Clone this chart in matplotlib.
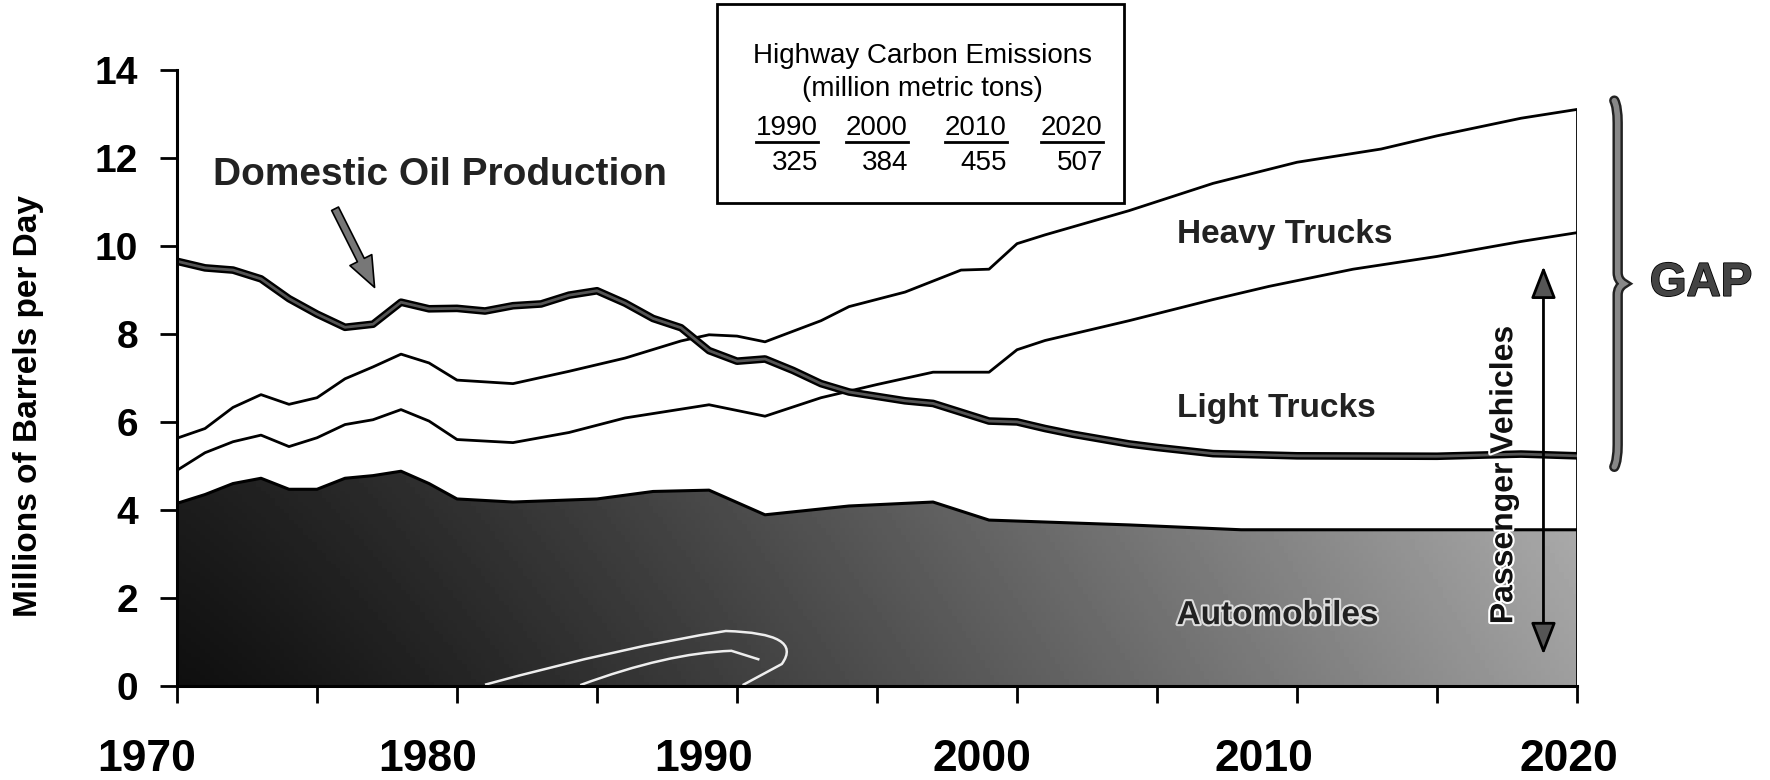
import numpy as np
import matplotlib
matplotlib.use("Agg")
import matplotlib.pyplot as plt
import matplotlib.patheffects as pe
import matplotlib.transforms as mtransforms
from matplotlib.path import Path
from matplotlib.patches import PathPatch, Rectangle, FancyArrowPatch
from matplotlib.lines import Line2D

plt.rcParams["font.family"] = ["Liberation Sans", "DejaVu Sans"]

# -----------------------------
# Data (millions of barrels per day)
# -----------------------------
# top of the automobiles area
auto_years = [1970, 1971, 1972, 1973, 1974, 1975, 1976, 1977, 1978, 1979, 1980,
              1982, 1985, 1987, 1989, 1991, 1994, 1997, 1999, 2004, 2008, 2020]
auto_vals = [4.15, 4.35, 4.6, 4.72, 4.47, 4.47, 4.72, 4.78, 4.88, 4.6, 4.25,
             4.18, 4.25, 4.42, 4.45, 3.89, 4.09, 4.18, 3.77, 3.66, 3.55, 3.55]

# top of the light trucks band (automobiles + light trucks)
light_years = [1970, 1971, 1972, 1973, 1974, 1975, 1976, 1977, 1978, 1979, 1980,
               1982, 1984, 1986, 1989, 1991, 1993, 1995, 1997, 1999, 2000, 2001,
               2004, 2007, 2009, 2012, 2015, 2018, 2020]
light_vals = [4.9, 5.3, 5.55, 5.7, 5.44, 5.64, 5.94, 6.05, 6.28, 6.02, 5.6,
              5.53, 5.76, 6.09, 6.39, 6.13, 6.55, 6.85, 7.13, 7.13, 7.64, 7.85,
              8.3, 8.78, 9.08, 9.47, 9.76, 10.1, 10.3]

# top of the heavy trucks band (total highway demand)
total_years = [1970, 1971, 1972, 1973, 1974, 1975, 1976, 1977, 1978, 1979, 1980,
               1982, 1984, 1986, 1988, 1989, 1990, 1991, 1993, 1994, 1996, 1998,
               1999, 2000, 2001, 2004, 2007, 2010, 2013, 2015, 2018, 2020]
total_vals = [5.63, 5.85, 6.33, 6.62, 6.4, 6.55, 6.98, 7.25, 7.54, 7.34, 6.95,
              6.87, 7.15, 7.45, 7.84, 7.98, 7.95, 7.82, 8.3, 8.62, 8.95, 9.45,
              9.47, 10.05, 10.25, 10.8, 11.42, 11.9, 12.2, 12.5, 12.9, 13.1]

# domestic oil production
oil_years = [1970, 1971, 1972, 1973, 1974, 1975, 1976, 1977, 1978, 1979, 1980,
             1981, 1982, 1983, 1984, 1985, 1986, 1987, 1988, 1989, 1990, 1991,
             1992, 1993, 1994, 1995, 1996, 1997, 1998, 1999, 2000, 2001, 2002,
             2004, 2005, 2007, 2010, 2015, 2018, 2020]
oil_vals = [9.65, 9.5, 9.45, 9.25, 8.8, 8.45, 8.15, 8.22, 8.72, 8.57, 8.58,
            8.52, 8.64, 8.68, 8.88, 8.98, 8.7, 8.35, 8.14, 7.62, 7.38, 7.43,
            7.17, 6.87, 6.68, 6.58, 6.48, 6.42, 6.22, 6.02, 6.0, 5.85, 5.72,
            5.5, 5.42, 5.28, 5.23, 5.22, 5.27, 5.23]

# emissions table
emis_years = ["1990", "2000", "2010", "2020"]
emis_vals = ["325", "384", "455", "507"]

y_ticks = [0, 2, 4, 6, 8, 10, 12, 14]
x_labels = [1970, 1980, 1990, 2000, 2010, 2020]

# -----------------------------
# Figure
# -----------------------------
fig = plt.figure(figsize=(17.7, 7.8), dpi=100)
ax = fig.add_axes([0.1, 0.1205, 0.791, 0.79])
ax.set_xlim(1970, 2020)
ax.set_ylim(0, 14)

# automobiles area, dark on the left fading to mid grey on the right
poly = ax.fill_between(auto_years, 0, auto_vals, facecolor="none", edgecolor="none")
gx = np.linspace(0, 1, 300)
gy = np.linspace(0, 1, 60)
shade = 0.06 + 0.56 * gx[None, :] ** 1.2 + 0.06 * gy[:, None]
img = ax.imshow(shade, extent=[1970, 2020, 0, 5], origin="lower", cmap="gray",
                vmin=0, vmax=1, aspect="auto", zorder=1)
img.set_clip_path(poly.get_paths()[0], transform=ax.transData)

# little white road drawn into the shading
road = Path([(1981.0, 0.03), (1986.0, 0.9), (1989.6, 1.25), (1992.4, 1.2),
             (1991.6, 0.5), (1990.2, 0.02)],
            [Path.MOVETO, Path.CURVE3, Path.CURVE3, Path.CURVE3, Path.CURVE3, Path.LINETO])
road2 = Path([(1984.4, 0.02), (1987.5, 0.75), (1989.8, 0.8), (1990.8, 0.6)],
             [Path.MOVETO, Path.CURVE3, Path.CURVE3, Path.LINETO])
for rp in (road, road2):
    ax.add_patch(PathPatch(rp, facecolor="none", edgecolor="#eeeeee", lw=1.8, zorder=2))

ax.plot(auto_years, auto_vals, color="black", lw=2.2, zorder=3)
ax.plot(light_years, light_vals, color="black", lw=2.0, zorder=3)
ax.plot(total_years, total_vals, color="black", lw=2.0, zorder=3)
ax.vlines(2020, 0, total_vals[-1], color="black", lw=2.0, zorder=3)

ax.plot(oil_years, oil_vals, color="#555555", lw=2.0, zorder=4,
        path_effects=[pe.Stroke(linewidth=5.5, foreground="black"), pe.Normal()])

# axes styling
for s in ["top", "right"]:
    ax.spines[s].set_visible(False)
ax.spines["left"].set_linewidth(2.2)
ax.spines["bottom"].set_linewidth(2.2)
ax.spines["left"].set_zorder(5)
ax.set_yticks(y_ticks)
ax.set_yticklabels([str(v) for v in y_ticks], fontsize=28, fontweight="bold")
ax.set_xticks(x_labels)
ax.set_xticklabels([str(v) for v in x_labels], fontsize=32, fontweight="bold")
ax.set_xticks(range(1975, 2020, 10), minor=True)
ax.tick_params(axis="y", direction="out", length=12, width=2, pad=16)
ax.tick_params(axis="x", which="both", direction="out", length=12, width=2, pad=26)
# year labels sit a bit left of their ticks in the original
shifts = [-30, -29, -33, -35, -33, -8]
for lab, dx in zip(ax.get_xticklabels(), shifts):
    lab.set_transform(lab.get_transform() +
                      mtransforms.ScaledTranslation(dx / 100, 0, fig.dpi_scale_trans))

fig.text(0.016, 0.4795, "Millions of Barrels per Day", rotation=90, ha="center",
         va="center", fontsize=24, fontweight="bold")

# labels
ax.text(1979.4, 11.6, "Domestic Oil Production", ha="center", va="center",
        fontsize=28, fontweight="bold", color="#222222")
ax.annotate("", xy=(1977.1, 9.0), xytext=(1975.6, 10.9),
            arrowprops=dict(arrowstyle="simple,head_width=0.8,head_length=1.0,tail_width=0.25",
                            facecolor="#777777", edgecolor="black", lw=1.2,
                            mutation_scale=22))
lab_x = 2005.7
ax.text(lab_x, 10.25, "Heavy Trucks", ha="left", va="center", fontsize=24,
        fontweight="bold", color="#222222")
ax.text(lab_x, 6.3, "Light Trucks", ha="left", va="center", fontsize=24,
        fontweight="bold", color="#222222")
ax.text(lab_x, 1.6, "Automobiles", ha="left", va="center", fontsize=24,
        fontweight="bold", color="#222222", zorder=6,
        path_effects=[pe.withStroke(linewidth=3, foreground="#dddddd")])

ax.text(2017.4, 4.8, "Passenger Vehicles", rotation=90, ha="center", va="center",
        fontsize=23, fontweight="bold", color="#111111", zorder=6,
        path_effects=[pe.withStroke(linewidth=3, foreground="white")])
pv_arrow = FancyArrowPatch((2018.8, 0.65), (2018.8, 9.6),
                           arrowstyle="<|-|>,head_width=0.35,head_length=0.9",
                           mutation_scale=22, facecolor="#555555", edgecolor="black",
                           lw=2, zorder=7)
ax.add_patch(pv_arrow)

# GAP brace between oil production and total demand in 2020
bx = 2021.45
top, bot = total_vals[-1] + 0.2, oil_vals[-1] - 0.25
mid = (top + bot) / 2
verts = [(bx - 0.12, top), (bx, top - 0.15), (bx, top - 0.5),
         (bx, mid + 0.25),
         (bx, mid + 0.08), (bx + 0.22, mid), (bx + 0.22, mid),
         (bx + 0.22, mid), (bx, mid - 0.08), (bx, mid - 0.25),
         (bx, bot + 0.5), (bx, bot + 0.15), (bx - 0.12, bot)]
codes = [Path.MOVETO, Path.CURVE3, Path.CURVE3, Path.LINETO,
         Path.CURVE3, Path.CURVE3, Path.LINETO,
         Path.LINETO, Path.CURVE3, Path.CURVE3,
         Path.LINETO, Path.CURVE3, Path.CURVE3]
brace = PathPatch(Path(verts, codes), facecolor="none", edgecolor="#888888", lw=4,
                  clip_on=False, capstyle="round",
                  path_effects=[pe.Stroke(linewidth=7.5, foreground="#222222"), pe.Normal()])
ax.add_patch(brace)
ax.text(2022.6, mid, "GAP", ha="left", va="center", fontsize=34, fontweight="bold",
        color="#444444", clip_on=False,
        path_effects=[pe.withStroke(linewidth=1.2, foreground="black")])

# emissions box above the plot
W, H = 1770.0, 780.0
fig.add_artist(Rectangle((717 / W, 1 - 203 / H), (1124 - 717) / W, 199 / H,
                         transform=fig.transFigure, fill=False, ec="black", lw=2))
fig.text(922 / W, 1 - 56 / H, "Highway Carbon Emissions", ha="center", va="center",
         fontsize=20)
fig.text(922 / W, 1 - 89 / H, "(million metric tons)", ha="center", va="center",
         fontsize=20)
col_x = [787, 877, 976, 1072]
for cx, yr, val in zip(col_x, emis_years, emis_vals):
    fig.text(cx / W, 1 - 128 / H, yr, ha="center", va="center", fontsize=20)
    fig.add_artist(Line2D([(cx - 31) / W, (cx + 31) / W], [1 - 142 / H, 1 - 142 / H],
                          transform=fig.transFigure, color="black", lw=2))
    fig.text((cx + 31) / W, 1 - 163 / H, val, ha="right", va="center", fontsize=20)

fig.savefig("out.png", dpi=100)
